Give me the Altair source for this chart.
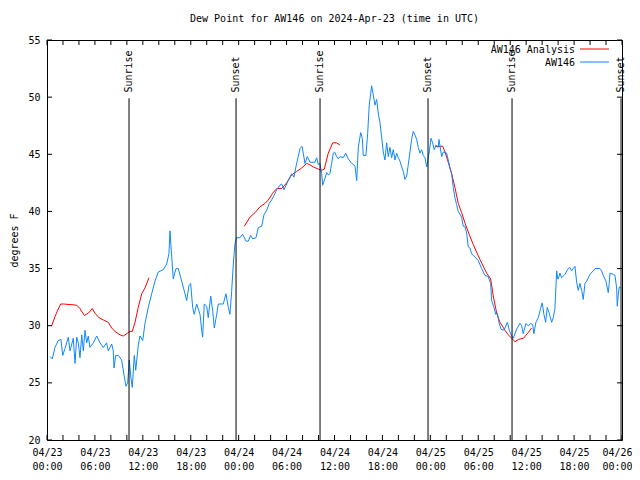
import altair as alt
import pandas as pd

# Time axis: hours since 2024-04-23 00:00 UTC
aw146_hours = [0.38, 0.66, 1.0, 1.41, 1.75, 1.97, 2.25, 2.67, 2.88, 3.29, 3.51, 3.72, 3.92, 4.13, 4.35, 4.55,
               4.76, 4.97, 5.17, 5.38, 5.80, 6.22, 6.64, 7.05, 7.47, 7.67, 8.10, 8.30, 8.39, 8.60, 8.93, 9.35,
               9.64, 9.89, 10.10, 10.30, 10.52, 10.68, 10.93, 11.11, 11.43, 11.64, 11.98, 12.27, 12.68, 13.11,
               13.52, 13.93, 14.56, 14.99, 15.27, 15.40, 15.52, 15.81, 16.15, 16.44, 16.86, 17.28, 17.49, 17.78,
               17.99, 18.24, 18.44, 18.74, 19.16, 19.37, 19.49, 19.69, 20.0, 20.19, 20.50, 20.75, 20.95, 21.25,
               21.45, 22.07, 22.41, 22.70, 22.91, 23.12, 23.33, 23.54, 23.75, 24.16, 24.50, 24.92, 25.20, 25.50,
               25.75, 26.17, 26.46, 26.88, 27.17, 27.51, 27.83, 28.13, 28.42, 28.76, 29.17, 29.39, 29.67, 30.01,
               30.34, 30.64, 30.92, 31.17, 31.46, 31.68, 31.93, 32.09, 32.30, 32.59, 32.93, 33.55, 33.77, 33.97,
               34.18, 34.39, 34.52, 34.81, 35.02, 35.22, 35.43, 35.64, 35.85, 36.02, 36.27, 36.47, 36.69, 37.10,
               37.40, 37.72, 38.15, 38.56, 38.78, 38.98, 39.28, 39.48, 39.60, 39.94, 40.15, 40.35, 40.53, 40.65,
               40.85, 41.07, 41.28, 41.48, 41.69, 41.90, 42.11, 42.32, 42.53, 42.73, 42.94, 43.16, 43.36, 43.57,
               43.78, 43.98, 44.20, 44.41, 44.61, 44.82, 45.04, 45.24, 45.45, 45.66, 45.86, 46.07, 46.29, 46.49,
               46.70, 46.91, 47.11, 47.33, 47.54, 47.66, 47.86, 48.08, 48.29, 48.49, 48.70, 48.99, 49.08, 49.42,
               49.62, 50.04, 50.24, 50.46, 50.67, 50.87, 51.08, 51.29, 51.50, 51.92, 52.12, 52.33, 52.55, 52.75,
               52.96, 53.17, 53.59, 54.00, 54.43, 54.84, 55.25, 55.55, 55.68, 55.97, 56.18, 56.38, 56.59, 56.84,
               57.13, 57.35, 57.64, 57.89, 58.18, 58.38, 58.81, 59.22, 59.43, 59.63, 59.97, 60.26, 60.56, 60.81,
               60.97, 61.22, 61.51, 61.81, 62.01, 62.22, 62.44, 62.64, 62.89, 63.19, 63.39, 63.60, 63.82, 63.94,
               64.02, 64.23, 64.44, 64.86, 65.27, 65.48, 65.69, 65.89, 66.11, 66.32, 66.52, 66.73, 66.95, 67.15,
               67.36, 67.57, 67.99, 68.40, 68.61, 69.24, 69.45, 69.65, 69.99, 70.28, 70.40, 70.49, 70.91, 71.12,
               71.33, 71.41, 71.53, 71.67, 71.84]
aw146_dewpt = [27.3, 27.1, 28.1, 28.7, 28.8, 27.4, 28.0, 29.0, 27.8, 28.9, 26.7, 29.0, 28.5, 27.2, 29.2, 27.8,
               29.6, 28.5, 29.1, 28.1, 28.5, 29.1, 28.5, 28.1, 28.5, 27.8, 28.4, 27.8, 26.3, 27.4, 27.4, 27.0,
               25.7, 24.7, 25.0, 27.0, 25.4, 24.6, 27.4, 26.1, 28.3, 29.1, 28.7, 30.2, 31.6, 32.8,
               33.9, 34.7, 34.9, 35.4, 36.3, 38.3, 37.0, 34.1, 35.0, 35.0, 33.9, 32.8, 32.2, 33.5,
               33.7, 31.6, 31.0, 31.9, 31.0, 29.6, 29.0, 31.9, 31.7, 30.7, 32.6, 31.3, 29.8, 31.0,
               31.9, 31.9, 32.8, 31.6, 31.0, 33.0, 35.4, 37.2, 37.7, 37.7, 38.0, 37.4, 37.4, 37.9,
               37.6, 37.7, 38.6, 38.7, 39.7, 40.1, 40.7, 41.0, 41.4, 41.9, 42.3, 42.4, 41.9, 42.4,
               42.9, 43.3, 43.0, 43.9, 44.8, 45.5, 45.7, 45.1, 44.2, 44.8, 44.3, 44.3, 44.7, 44.1,
               44.2, 43.3, 42.3, 42.9, 43.4, 43.2, 43.3, 44.2, 45.1, 45.2, 44.8, 44.6, 44.8, 44.7,
               45.1, 44.6, 44.2, 44.0, 42.7, 45.6, 46.9, 46.4, 44.9, 44.9, 46.8, 49.3, 50.3, 51.0,
               50.2, 49.3, 49.8, 48.6, 47.8, 46.5, 45.2, 44.5, 46.0, 44.8, 45.6, 44.7, 45.4, 44.5,
               45.1, 44.7, 44.4, 43.9, 43.5, 42.8, 43.1, 44.1, 45.2, 46.3, 47.0, 46.7, 46.3, 45.6,
               45.1, 45.4, 44.9, 44.7, 43.9, 44.4, 45.2, 46.4, 46.0, 45.4, 45.8, 45.6, 46.3, 44.8,
               45.2, 45.1, 44.5, 43.8, 43.3, 42.1, 41.2, 40.6, 40.0, 39.5, 38.7, 38.7, 38.1, 36.9,
               36.8, 36.3, 36.0, 35.7, 35.0, 34.4, 34.3, 33.7, 32.2, 31.6, 31.0, 31.1, 30.3, 29.7,
               29.6, 29.8, 30.3, 29.6, 29.1, 28.9, 29.7, 30.2, 30.0, 29.3, 30.2, 30.0, 30.2, 30.1,
               29.3, 30.3, 30.7, 31.5, 32.0, 31.0, 30.3, 31.6, 31.1, 30.3, 30.7, 31.5, 34.8, 34.1,
               34.1, 34.6, 34.2, 34.5, 35.0, 35.1, 34.8, 35.0, 35.2, 33.8, 33.1, 33.7, 33.1, 32.3,
               33.7, 33.9, 34.5, 34.8, 35.0, 35.0, 34.8, 34.4, 33.9, 32.9, 33.7, 34.6, 34.5, 34.4,
               33.3, 31.7, 32.7, 33.4, 33.3]

analysis_hours = [0.59, 1.0, 1.5, 1.72, 2.04, 3.72, 4.13, 4.67, 5.17, 5.67, 6.01, 6.51, 7.05, 7.67, 8.10, 8.51,
                  9.14, 9.55, 9.98, 10.39, 10.68, 11.02, 11.43, 11.86, 12.27, 12.77,
                  24.70, 25.42, 26.05, 26.67, 27.30, 27.71, 28.26, 28.76, 29.39, 30.01, 30.64, 31.27, 31.89,
                  32.52, 32.85, 33.35, 33.97, 34.39, 34.72, 35.22, 35.78, 36.27, 36.69,
                  48.58, 49.55, 49.84, 50.24, 50.67, 51.08, 51.50, 51.92, 52.33, 52.75, 53.37, 54.21, 55.05,
                  55.55, 55.88, 56.31, 56.72, 57.35, 57.76, 58.18, 58.61, 59.02, 59.65, 60.26, 60.69]
analysis_dewpt = [30.0, 30.8, 31.6, 31.9, 31.9, 31.8, 31.5, 30.9, 31.1, 31.5, 31.1, 30.7, 30.5, 30.3, 29.8, 29.5,
                  29.2, 29.1, 29.3, 29.5, 29.5, 30.3, 31.6, 32.8, 33.3, 34.2,
                  38.7, 39.5, 39.9, 40.4, 40.7, 41.0, 41.6, 42.0, 42.0, 42.5, 43.2, 43.5, 43.8,
                  44.2, 44.1, 43.9, 43.7, 43.6, 43.7, 45.1, 46.0, 46.0, 45.8,
                  45.7, 45.7, 45.2, 44.3, 43.3, 42.1, 40.7, 39.9, 39.0, 38.2, 37.1, 35.8, 34.6,
                  34.1, 32.6, 31.1, 30.3, 29.6, 29.2, 28.9, 28.6, 28.8, 28.9, 29.4, 29.8]
analysis_run = [1] * 26 + [2] * 23 + [3] * 25

sun_hours = [10.27, 23.67, 34.19, 47.71, 58.23, 71.88]
sun_labels = ["Sunrise", "Sunset", "Sunrise", "Sunset", "Sunrise", "Sunset"]
sun_line_top = 49.9
sun_text_y = 50.4

x_tick_hours = list(range(0, 73, 2))
x_label_hours = list(range(0, 73, 6))
y_ticks = [20, 25, 30, 35, 40, 45, 50, 55]

series_names = ["AW146 Analysis", "AW146"]
series_colors = ["#ff0000", "#0f87ff"]

FONT = "DejaVu Sans Mono"
W, H = 575, 400
TICK = 5

aw = pd.DataFrame({"hours": aw146_hours, "dewpt": aw146_dewpt})
an = pd.DataFrame({"hours": analysis_hours, "dewpt": analysis_dewpt, "run": analysis_run})
sun = pd.DataFrame({"hours": sun_hours, "label": sun_labels,
                    "top": [sun_line_top] * len(sun_hours), "dewpt": [20] * len(sun_hours),
                    "ty": [sun_text_y] * len(sun_hours)})
xt = pd.DataFrame({"hours": x_tick_hours})
yt = pd.DataFrame({"dewpt": y_ticks})

xscale = alt.Scale(domain=[0, 72], nice=False, zero=False)
yscale = alt.Scale(domain=[20, 55], nice=False, zero=False)

label_expr = ("['04/' + (23 + floor(datum.value / 24)), "
              "(datum.value % 24 < 10 ? '0' : '') + (datum.value % 24) + ':00']")

x_axis = alt.Axis(values=x_label_hours, labelExpr=label_expr, domain=False, grid=False,
                  ticks=False, labelPadding=7,
                  labelOffset={"condition": {"test": "datum.value >= 72", "value": -5}, "value": 0},
                  labelFont=FONT, labelFontSize=10, labelColor="black", labelLineHeight=14,
                  labelFlush=False, labelOverlap=False, labelBound=False, title="")
y_axis = alt.Axis(values=y_ticks, domain=False, grid=False, ticks=False,
                  labelPadding=7, labelFont=FONT, labelFontSize=10, labelColor="black",
                  labelFlush=False, labelOverlap=False, title="degrees F", titleFont=FONT,
                  titleFontSize=10, titleFontWeight="normal", titleColor="black",
                  titleX=-33, titleY=H / 2, titleAngle=270, titleAlign="center",
                  titleBaseline="middle")


def X(field="hours"):
    return alt.X(f"{field}:Q", scale=xscale, axis=x_axis)


def Y(field="dewpt"):
    return alt.Y(f"{field}:Q", scale=yscale, axis=y_axis)


red = alt.Chart(an).mark_line(color=series_colors[0], strokeWidth=1).encode(
    x=X(), y=Y(), detail="run:N")

blue = alt.Chart(aw).mark_line(color=series_colors[1], strokeWidth=1).encode(x=X(), y=Y())

rules = alt.Chart(sun).mark_rule(color="black", strokeWidth=1).encode(x=X(), y=Y(), y2="top:Q")

sun_text = alt.Chart(sun).mark_text(font=FONT, fontSize=10, angle=270, align="left",
                                    baseline="middle", color="black", clip=False).encode(
    x=X(), y=Y("ty"), text="label:N")

# inward tick marks on all four sides
tick_bottom = alt.Chart(xt).mark_rule(color="black", strokeWidth=1).encode(
    x=X(), y=alt.value(H), y2=alt.value(H - TICK))
tick_top = alt.Chart(xt).mark_rule(color="black", strokeWidth=1).encode(
    x=X(), y=alt.value(0), y2=alt.value(TICK))
tick_left = alt.Chart(yt).mark_rule(color="black", strokeWidth=1).encode(
    y=Y(), x=alt.value(0), x2=alt.value(TICK))
tick_right = alt.Chart(yt).mark_rule(color="black", strokeWidth=1).encode(
    y=Y(), x=alt.value(W), x2=alt.value(W - TICK))

leg_df = pd.DataFrame({"name": series_names, "color": series_colors})

leg_layers = []
for i, (nm, col) in enumerate(zip(series_names, series_colors)):
    d = leg_df[leg_df["name"] == nm]
    ty = 10 + 13 * i
    leg_layers.append(
        alt.Chart(d).mark_text(font=FONT, fontSize=10, align="right", baseline="middle",
                               color="black").encode(
            x=alt.value(528), y=alt.value(ty), text="name:N")
    )
    leg_layers.append(
        alt.Chart(d).mark_rule(color=col, strokeWidth=1).encode(
            x=alt.value(533), x2=alt.value(562), y=alt.value(ty - 1))
    )

chart = alt.layer(red, blue, rules, sun_text, tick_bottom, tick_top, tick_left, tick_right,
                  *leg_layers).properties(
    width=W, height=H,
    background="white",
    title=alt.TitleParams("Dew Point for AW146 on 2024-Apr-23 (time in UTC)", font=FONT,
                          fontSize=10, fontWeight="normal", color="black", offset=11),
    autosize=alt.AutoSizeParams(type="none"),
    padding={"left": 39, "top": 32, "right": 10, "bottom": 32},
).configure_view(stroke="black", strokeWidth=1)

chart.save("out.html", embed_options={"renderer": "svg", "actions": False})
